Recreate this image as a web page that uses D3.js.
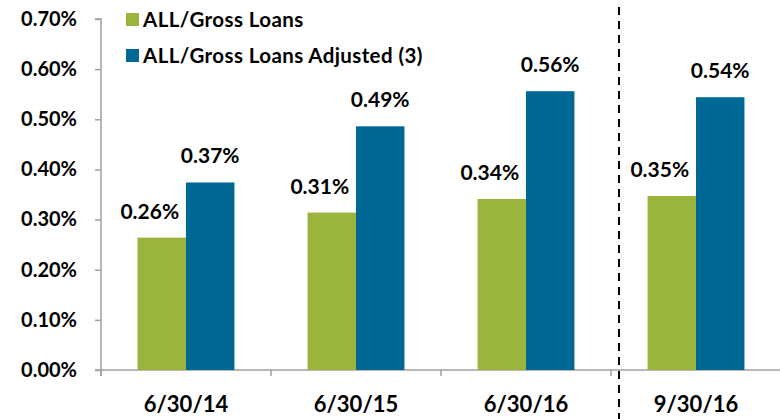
<!DOCTYPE html>
<html><head><meta charset="utf-8">
<script src="https://cdn.jsdelivr.net/npm/d3@7"></script>
<style>body{margin:0;background:#fff}svg{display:block}text{font-family:Lato,"Open Sans",sans-serif;font-weight:bold;fill:#000}</style>
</head><body>
<script>
const categories = ["6/30/14","6/30/15","6/30/16","9/30/16"];
const seriesNames = ["ALL/Gross Loans","ALL/Gross Loans Adjusted (3)"];
const grossLoans = [0.264, 0.314, 0.341, 0.347];
const grossLoansAdjusted = [0.374, 0.486, 0.556, 0.544];
const yTicks = [0,0.1,0.2,0.3,0.4,0.5,0.6,0.7];
const colors = ["#9BB43C","#006894"];

const W=780,H=419;
const svg=d3.select("body").append("svg").attr("width",W).attr("height",H);
const x0=101, x1=781, yTop=19, yBot=370;
const x=d3.scaleBand().domain(categories).range([x0,x1]).paddingInner(0).paddingOuter(0);
const y=d3.scaleLinear().domain([0,0.7]).range([yBot,yTop]);
const bw = x.bandwidth()*0.285;
const sub=d3.scaleBand().domain([0,1]).range([0,bw*2]);

// y axis
const yAxis=d3.axisLeft(y).tickValues(yTicks).tickSize(6).tickFormat(d=>d3.format(".2f")(d)+"%");
const gy=svg.append("g").attr("transform",`translate(${x0},0)`).call(yAxis);
gy.select(".domain").attr("stroke","#A0A0A0").attr("stroke-width",1.5).attr("d",`M-6,${yTop}H0V${yBot+6}`);
gy.selectAll(".tick line").attr("stroke","#A0A0A0").attr("stroke-width",1.5);
gy.selectAll(".tick text").attr("x",-24).attr("font-size",20).style("font-family","Lato").style("font-weight","bold").attr("fill","#000");

// x axis
const xAxis=d3.axisBottom(x).tickSize(0).tickPadding(26);
const gx=svg.append("g").attr("transform",`translate(0,${yBot})`).call(xAxis);
gx.select(".domain").attr("stroke","#A0A0A0").attr("stroke-width",1.5).attr("d",`M${x0-6},0H${W}`);
gx.selectAll(".tick text").attr("font-size",22).style("font-family","Lato").style("font-weight","bold").attr("fill","#000");
categories.forEach(c=>{
  svg.append("line").attr("x1",x(c)).attr("x2",x(c)).attr("y1",yBot).attr("y2",yBot+6).attr("stroke","#A0A0A0").attr("stroke-width",1.5);
});

// bars
const data=[grossLoans,grossLoansAdjusted];
data.forEach((vals,si)=>{
  svg.append("g").selectAll("rect").data(vals).join("rect")
    .attr("x",(d,i)=>x(categories[i])+x.bandwidth()/2-bw+sub(si))
    .attr("width",sub.bandwidth())
    .attr("y",d=>y(d)).attr("height",d=>yBot-y(d))
    .attr("fill",colors[si]);
  svg.append("g").selectAll("text").data(vals).join("text")
    .attr("x",(d,i)=>x(categories[i])+x.bandwidth()/2-bw+sub(si)+sub.bandwidth()/2-(si===0?12:0))
    .attr("y",d=>y(d)-19)
    .attr("text-anchor","middle").attr("font-size",21)
    .text(d=>d3.format(".2f")(d*1)+"%");
});

// separator dashed line
const sepX = (x(categories[2])+x.bandwidth()+x(categories[3]))/2 + 8;
svg.append("line").attr("x1",sepX).attr("x2",sepX).attr("y1",7).attr("y2",H)
  .attr("stroke","#000").attr("stroke-width",2).attr("stroke-dasharray","8,6");

// legend
const lg=svg.append("g");
seriesNames.forEach((n,i)=>{
  const gy0=13+i*36;
  lg.append("rect").attr("x",126).attr("y",gy0).attr("width",13).attr("height",13).attr("fill",colors[i]);
  lg.append("text").attr("x",143).attr("y",gy0+14).attr("font-size",20.5).attr("letter-spacing",0.4).text(n);
});
</script>
</body></html>
